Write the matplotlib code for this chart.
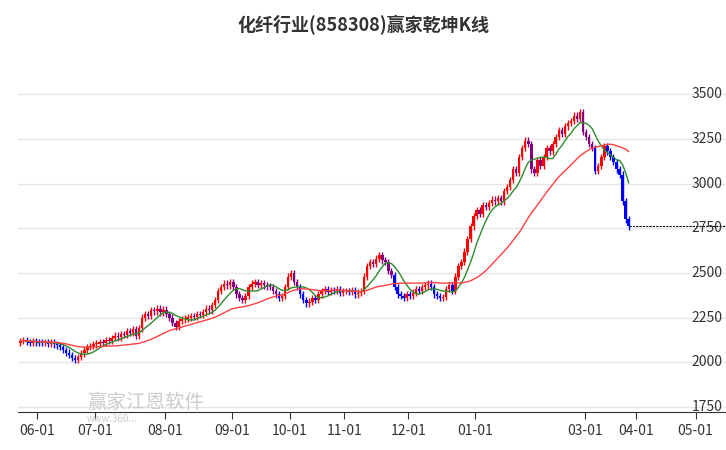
import matplotlib.pyplot as plt
import matplotlib.transforms as mtransforms
import numpy as np
import pandas as pd

plt.rcParams['font.family'] = ['Noto Sans CJK SC', 'DejaVu Sans']

# closing prices per month, one per trading day
closes_by_month = {
    "2024-05": [2120, 2125, 2115, 2110, 2118, 2112],
    "2024-06": [2110, 2108, 2112, 2105, 2110, 2100, 2095, 2085, 2070, 2055, 2040, 2025, 2015, 2030,
                2050, 2070, 2085, 2090, 2100],
    "2024-07": [2105, 2115, 2110, 2125, 2120, 2135, 2150, 2140, 2160, 2155, 2175, 2165, 2185, 2150,
                2190, 2250, 2270, 2260, 2290, 2285, 2300, 2280, 2295],
    "2024-08": [2270, 2250, 2220, 2200, 2230, 2240, 2245, 2250, 2260, 2255, 2270, 2265, 2280, 2300,
                2290, 2320, 2350, 2400, 2420, 2440, 2430, 2450],
    "2024-09": [2420, 2380, 2360, 2350, 2370, 2420, 2440, 2450, 2435, 2445, 2430, 2425, 2420, 2400,
                2380, 2360, 2370, 2420, 2480],
    "2024-10": [2500, 2450, 2420, 2380, 2350, 2330, 2340, 2360, 2350, 2380, 2400, 2410, 2395, 2405,
                2400, 2410, 2390, 2400],
    "2024-11": [2400, 2395, 2405, 2380, 2390, 2400, 2480, 2540, 2560, 2550, 2580, 2600, 2570, 2560,
                2510, 2490, 2420, 2380, 2370, 2360, 2380],
    "2024-12": [2370, 2390, 2410, 2400, 2420, 2430, 2440, 2420, 2380, 2370, 2360, 2365, 2410, 2430,
                2400, 2480, 2540, 2560, 2620, 2690, 2760, 2820],
    "2025-01": [2850, 2830, 2880, 2870, 2890, 2910, 2900, 2920, 2900, 2960, 2980, 3020, 3080, 3060,
                3150, 3200, 3240, 3220],
    "2025-02": [3080, 3060, 3130, 3100, 3150, 3200, 3180, 3220, 3260, 3300, 3280, 3320, 3340, 3350,
                3380, 3360, 3400, 3290],
    "2025-03": [3260, 3220, 3200, 3070, 3100, 3150, 3210, 3180, 3150, 3120, 3080, 3050, 2900, 2800,
                2760],
}
tick_labels = ["06-01", "07-01", "08-01", "09-01", "10-01", "11-01", "12-01", "01-01",
               "03-01", "04-01", "05-01"]
# positions on the trading-day axis (04-01 and 05-01 lie beyond the data)
tick_positions = [5.5, 24.5, 47.5, 69.5, 88.5, 106.5, 127.5, 149.5, 185.5, 202.5, 222.0]
y_ticks = [1750, 2000, 2250, 2500, 2750, 3000, 3250, 3500]

closes = [v for values in closes_by_month.values() for v in values]
frame = pd.DataFrame({"close": closes})
frame["open"] = frame["close"].shift(1).fillna(frame["close"].iloc[0] - 10)
frame["high"] = frame[["open", "close"]].max(axis=1) + 18
frame["low"] = frame[["open", "close"]].min(axis=1) - 18
frame["ma_short"] = frame["close"].rolling(8, min_periods=1).mean()
frame["ma_long"] = frame["close"].rolling(30, min_periods=1).mean()
x = np.arange(len(frame))

figure = plt.figure(figsize=(7.26, 4.5), dpi=100)
axis = figure.add_axes([0.0248, 0.0844, 0.9752, 0.79])
for y in y_ticks:
    axis.axhline(y, color="#e6e6e6", lw=1, zorder=0)

for xi, row in zip(x, frame.itertuples()):
    if row.close >= row.open:
        color = "#ff0000"
    elif row.close >= row.ma_long:
        color = "#800080"
    else:
        color = "#0000ff"
    axis.vlines(xi, row.low, row.high, color=color, lw=1, zorder=3)
    axis.bar(xi, max(abs(row.close - row.open), 6), bottom=min(row.open, row.close),
             width=0.8, color=color, zorder=3)

axis.plot(x, frame["ma_short"], color="#2e8b2e", lw=1, zorder=4)
axis.plot(x, frame["ma_long"], color="#ff4040", lw=1, zorder=4)
last = frame["close"].iloc[-1]
axis.plot([x[-1], 240], [last, last], color="black", lw=0.8, ls=(0, (2, 1)), zorder=2)

axis.set_xlim(-0.8, 232)
axis.set_ylim(1722, 3711)
axis.set_xticks(tick_positions)
axis.set_xticklabels(tick_labels, fontsize=10, color="#333333")
axis.tick_params(axis="x", length=5, color="#333333")
axis.set_yticks([])
trans = mtransforms.blended_transform_factory(axis.transAxes, axis.transData)
for y in y_ticks:
    axis.text(0.995, y, str(y), transform=trans, ha="right", va="center", fontsize=10,
              color="#333333")
for side in ["top", "right", "left"]:
    axis.spines[side].set_visible(False)
axis.spines["bottom"].set_color("#333333")

figure.text(0.5, 0.945, "化纤行业(858308)赢家乾坤K线", ha="center", va="center", fontsize=13,
            fontweight="bold", color="#333333")
figure.text(0.12, 0.105, "赢家江恩软件", fontsize=14, color="#cccccc", va="center", zorder=0)
figure.text(0.12, 0.068, "www.360...", fontsize=7, color="#cccccc", va="center", zorder=0)
figure.savefig("out.png", dpi=100)
plt.close(figure)
